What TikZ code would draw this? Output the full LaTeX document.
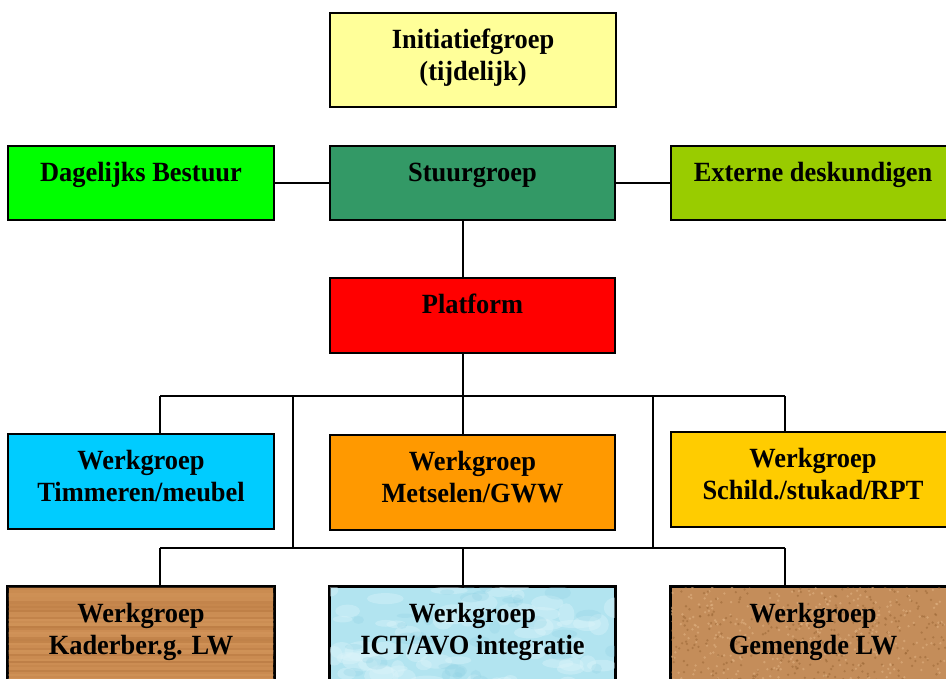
\documentclass[tikz,border=0pt]{standalone}
\usepackage{fontspec}
\setmainfont[FakeStretch=0.95]{Liberation Serif}
\definecolor{cInit}{HTML}{FFFF99}
\definecolor{cDag}{HTML}{00FF00}
\definecolor{cStuur}{HTML}{339966}
\definecolor{cExt}{HTML}{99CC00}
\definecolor{cPlat}{HTML}{FF0000}
\definecolor{cTimm}{HTML}{00CCFF}
\definecolor{cMets}{HTML}{FF9900}
\definecolor{cSchild}{HTML}{FFCC00}
\definecolor{cWood}{HTML}{C98A50}
\definecolor{cWoodDark}{HTML}{A86A34}
\definecolor{cWoodLight}{HTML}{DEA468}
\definecolor{cWater}{HTML}{B2E4F0}
\definecolor{cWaterLight}{HTML}{DCF4FA}
\definecolor{cWaterDark}{HTML}{8CCFE2}
\definecolor{cCork}{HTML}{C48D5A}
\definecolor{cCorkDark}{HTML}{93602F}
\definecolor{cCorkLight}{HTML}{E2B585}
\newcommand\twoline[2]{\begin{tabular}[t]{@{}c@{}}#1\\#2\end{tabular}}
\begin{document}
\begin{tikzpicture}[x=1pt,y=-1pt,
  box/.style={draw=black, line width=1.8pt, inner sep=0pt, rectangle},
  conn/.style={draw=black, line width=1.4pt},
  txt/.style={font=\fontsize{27.8}{32}\selectfont\bfseries, inner sep=0pt, anchor=base, yshift=-36pt}]
\useasboundingbox (0,0) rectangle (946,679);
\clip (0,0) rectangle (946,679);
\pgfmathsetseed{7}

% boxes
\node[box, fill=cInit,   minimum width=286pt, minimum height=94pt] (init)   at (473,60) {};
\node[box, fill=cDag,    minimum width=266pt, minimum height=74pt] (dag)    at (141,183) {};
\node[box, fill=cStuur,  minimum width=285pt, minimum height=74pt] (stuur)  at (472.5,183) {};
\node[box, fill=cExt,    minimum width=284pt, minimum height=74pt] (ext)    at (813,183) {};
\node[box, fill=cPlat,   minimum width=285pt, minimum height=75pt] (plat)   at (472.5,315.5) {};
\node[box, fill=cTimm,   minimum width=266pt, minimum height=95pt] (timm)   at (141,481.5) {};
\node[box, fill=cMets,   minimum width=285pt, minimum height=95pt] (mets)   at (472.5,482.5) {};
\node[box, fill=cSchild, minimum width=284pt, minimum height=95pt] (schild) at (813,479.5) {};
\node[box, fill=cWood,   minimum width=266pt, minimum height=95pt] (kader)  at (141,634.5) {};
\node[box, fill=cWater,  minimum width=285pt, minimum height=95pt] (ict)    at (472.5,634.5) {};
\node[box, fill=cCork,   minimum width=284pt, minimum height=95pt] (gem)    at (813,634.5) {};

% textures
\begin{scope}
  \clip (kader.north west) rectangle (kader.south east);
  \foreach \i in {0,...,45} {
    \pgfmathsetmacro\yy{586+\i*2.2}
    \pgfmathsetmacro\op{0.05+0.3*rnd}
    \pgfmathsetmacro\lt{rnd}
    \ifdim\lt pt<0.5pt
      \fill[cWoodDark, opacity=\op] (0,\yy) rectangle (280,\yy+2.2);
    \else
      \fill[cWoodLight, opacity=\op] (0,\yy) rectangle (280,\yy+2.2);
    \fi
  }
\end{scope}
\begin{scope}
  \clip (ict.north west) rectangle (ict.south east);
  \foreach \i in {1,...,60} {
    \pgfmathsetmacro\xx{325+295*rnd}
    \pgfmathsetmacro\yy{585+100*rnd}
    \pgfmathsetmacro\rx{6+14*rnd}
    \pgfmathsetmacro\ry{3+8*rnd}
    \fill[cWaterLight, opacity=0.4] (\xx,\yy) ellipse ({\rx} and {\ry});
  }
  \foreach \i in {1,...,40} {
    \pgfmathsetmacro\xx{325+295*rnd}
    \pgfmathsetmacro\yy{585+100*rnd}
    \pgfmathsetmacro\rx{4+10*rnd}
    \pgfmathsetmacro\ry{2+5*rnd}
    \fill[cWaterDark, opacity=0.25] (\xx,\yy) ellipse ({\rx} and {\ry});
  }
\end{scope}
\begin{scope}
  \clip (gem.north west) rectangle (gem.south east);
  \foreach \i in {1,...,700} {
    \pgfmathsetmacro\xx{668+290*rnd}
    \pgfmathsetmacro\yy{585+100*rnd}
    \pgfmathsetmacro\lt{rnd}
    \ifdim\lt pt<0.5pt
      \fill[cCorkDark, opacity=0.45] (\xx,\yy) circle (1.3);
    \else
      \fill[cCorkLight, opacity=0.55] (\xx,\yy) circle (1.3);
    \fi
  }
\end{scope}
\draw[line width=1.8pt] (kader.north west) rectangle (kader.south east);
\draw[line width=1.8pt] (ict.north west) rectangle (ict.south east);
\draw[line width=1.8pt] (gem.north west) rectangle (gem.south east);

% texts
\node[txt] at (init.north)   {\twoline{Initiatiefgroep}{(tijdelijk)}};
\node[txt] at (dag.north)    {Dagelijks Bestuur};
\node[txt] at (stuur.north)  {Stuurgroep};
\node[txt] at (ext.north)    {Externe deskundigen};
\node[txt] at (plat.north)   {Platform};
\node[txt] at (timm.north)   {\twoline{Werkgroep}{Timmeren/meubel}};
\node[txt] at (mets.north)   {\twoline{Werkgroep}{Metselen/GWW}};
\node[txt] at (schild.north) {\twoline{Werkgroep}{Schild./stukad/RPT}};
\node[txt] at (kader.north)  {\twoline{Werkgroep}{Kaderber.g. LW}};
\node[txt] at (ict.north)    {\twoline{Werkgroep}{ICT/AVO integratie}};
\node[txt] at (gem.north)    {\twoline{Werkgroep}{Gemengde LW}};

% connector coordinates
\coordinate (sp)  at (463,0);
\coordinate (b1l) at (160,396);
\coordinate (b1r) at (785,396);
\coordinate (b1a) at (293,396);
\coordinate (b1b) at (653,396);
\coordinate (b2l) at (160,548);
\coordinate (b2r) at (785,548);

% connectors
\draw[conn] (dag) -- (stuur);
\draw[conn] (stuur) -- (ext);
\draw[conn] (stuur.south -| sp) -- (plat.north -| sp);
\draw[conn] (plat.south -| sp) -- (sp |- b1l);
\draw[conn] (b1l) -- (b1r);
\draw[conn] (b1l) -- (timm.north -| b1l);
\draw[conn] (sp |- b1l) -- (mets.north -| sp);
\draw[conn] (b1r) -- (schild.north -| b1r);
\draw[conn] (b1a) -- (b1a |- b2l);
\draw[conn] (b1b) -- (b1b |- b2l);
\draw[conn] (b2l) -- (b2r);
\draw[conn] (b2l) -- (kader.north -| b2l);
\draw[conn] (sp |- b2l) -- (ict.north -| sp);
\draw[conn] (b2r) -- (gem.north -| b2r);
\end{tikzpicture}
\end{document}
